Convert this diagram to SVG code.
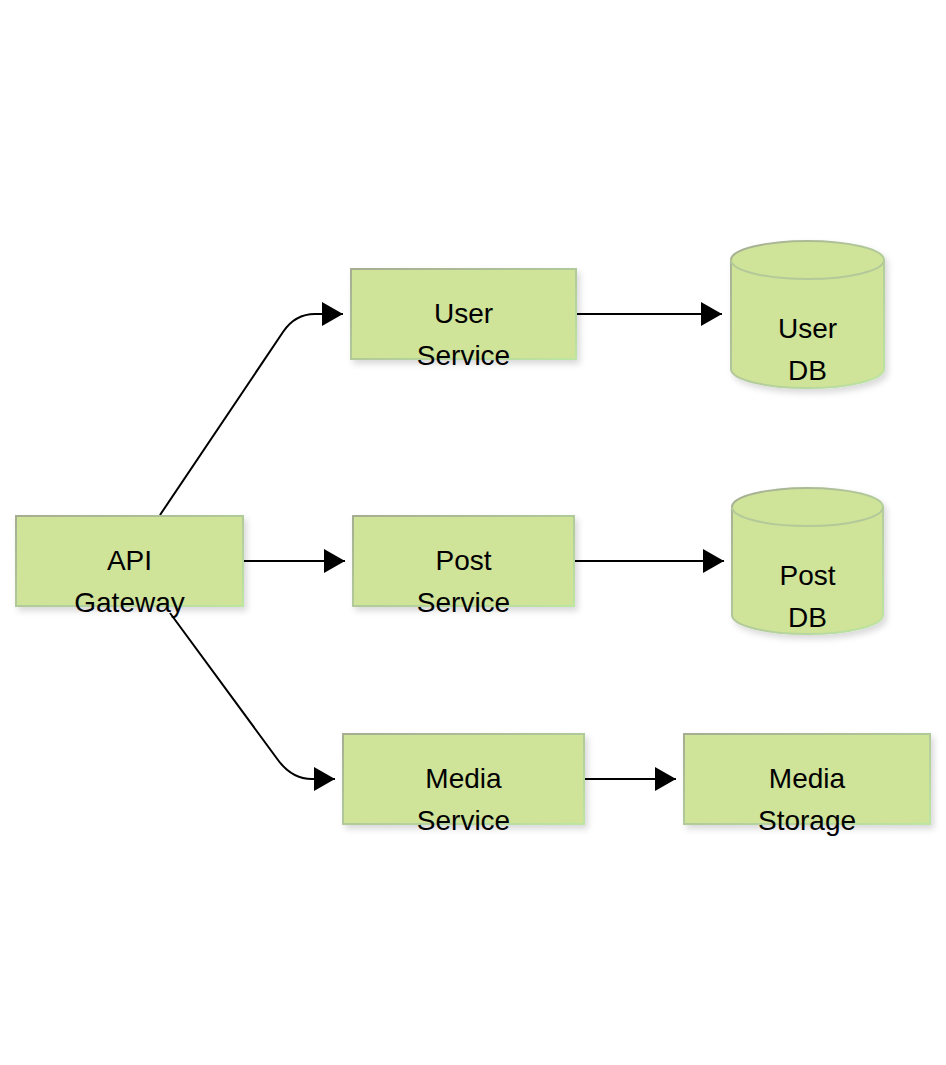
<svg xmlns="http://www.w3.org/2000/svg" width="946" height="1065" viewBox="0 0 946 1065">
<style>
.n{fill:#cfe399;stroke:url(#bd);stroke-width:2;filter:url(#sh)}
.t{font-family:"Liberation Sans",Arial,sans-serif;font-size:28px;fill:#000;text-anchor:middle}
.c{fill:none;stroke:#000;stroke-width:2}
</style>
<defs>
<linearGradient id="bd" x1="0" y1="0" x2="1" y2="1">
<stop offset="0" stop-color="#a6ad92"/>
<stop offset="1" stop-color="#bde6a2"/>
</linearGradient>
<filter id="sh" x="-10%" y="-10%" width="130%" height="140%">
<feDropShadow dx="3" dy="4" stdDeviation="3" flood-color="#000" flood-opacity="0.15"/>
</filter>
<marker id="ah" markerUnits="userSpaceOnUse" markerWidth="22" markerHeight="26" refX="21" refY="12" orient="auto">
<path d="M0,0 L21,12 L0,24 Z" fill="#000"/>
</marker>
</defs>
<rect width="946" height="1065" fill="#fff"/>
<g id="connectors">
<path class="c" d="M160,515 L283,332 Q295,314 315,314 L343,314" marker-end="url(#ah)"/>
<path class="c" d="M244,561 L345,561" marker-end="url(#ah)"/>
<path class="c" d="M170,613 L278,760 Q292,779 312,779 L335,779" marker-end="url(#ah)"/>
<path class="c" d="M577,314 L722,314" marker-end="url(#ah)"/>
<path class="c" d="M575,561 L724,561" marker-end="url(#ah)"/>
<path class="c" d="M585,779 L676,779" marker-end="url(#ah)"/>
</g>
<g id="api-gateway">
<rect class="n" x="16" y="516" width="227" height="90"/>
<text class="t" x="129.5" y="570">API</text>
<text class="t" x="129.5" y="612">Gateway</text>
</g>
<g id="user-service">
<rect class="n" x="351" y="269" width="225" height="90"/>
<text class="t" x="463.5" y="323">User</text>
<text class="t" x="463.5" y="365">Service</text>
</g>
<g id="post-service">
<rect class="n" x="353" y="516" width="221" height="90"/>
<text class="t" x="463.5" y="570">Post</text>
<text class="t" x="463.5" y="612">Service</text>
</g>
<g id="media-service">
<rect class="n" x="343" y="734" width="241" height="90"/>
<text class="t" x="463.5" y="788">Media</text>
<text class="t" x="463.5" y="830">Service</text>
</g>
<g id="media-storage">
<rect class="n" x="684" y="734" width="246" height="90"/>
<text class="t" x="807" y="788">Media</text>
<text class="t" x="807" y="830">Storage</text>
</g>
<g id="user-db">
<path class="n" d="M731,260 A76.5,19 0 0 1 884,260 L884,369 A76.5,19 0 0 1 731,369 Z"/>
<path d="M731,260 A76.5,19 0 0 0 884,260" fill="none" stroke="#b3c99a" stroke-width="2"/>
<text class="t" x="807.5" y="338">User</text>
<text class="t" x="807.5" y="380">DB</text>
</g>
<g id="post-db">
<path class="n" d="M732,507 A75.5,19 0 0 1 883,507 L883,615 A75.5,19 0 0 1 732,615 Z"/>
<path d="M732,507 A75.5,19 0 0 0 883,507" fill="none" stroke="#b3c99a" stroke-width="2"/>
<text class="t" x="807.5" y="585">Post</text>
<text class="t" x="807.5" y="627">DB</text>
</g>
</svg>
